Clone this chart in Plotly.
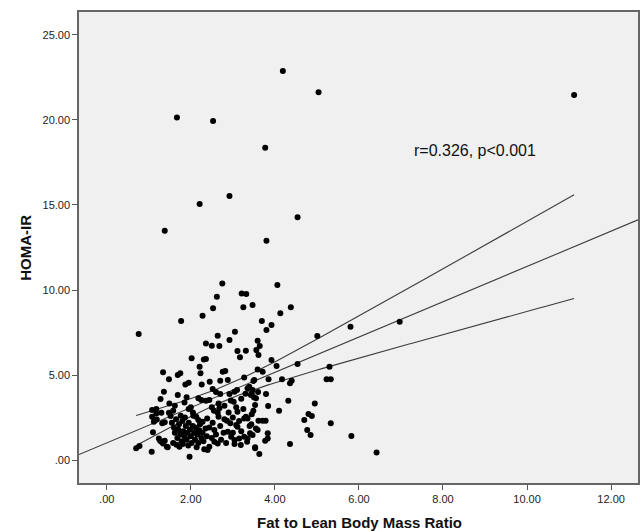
import numpy as np
import plotly.graph_objects as go

# ---- data ----
fat_lean_ratio = [
    4.19, 5.04, 1.67, 2.53, 3.77, 2.92, 2.21, 4.54, 1.38, 3.80, 2.75, 4.06, 2.62, 3.21, 3.32, 11.12,
    3.47, 4.38, 4.13, 3.69, 3.92, 3.80, 5.01, 5.80, 6.97, 3.59, 3.64, 3.56, 3.61, 3.92, 4.54, 4.04, 5.30, 3.59, 3.71,
    0.76, 1.77, 2.02, 1.34, 1.48, 1.69, 1.75, 1.87, 1.95, 1.36, 1.28, 1.69, 1.49, 1.90, 1.85, 1.18, 1.30, 1.48, 1.52,
    1.08, 1.14, 1.38, 1.10, 1.24, 1.30, 1.38, 0.70, 0.78, 1.07, 1.45, 1.73, 1.81, 1.97,
    2.53, 2.28, 3.25, 3.05, 2.64, 2.92, 2.36, 2.50, 2.68, 3.11, 3.31, 3.17, 2.31, 2.36, 2.21, 2.23, 2.76, 2.82, 3.27,
    2.70, 2.88, 3.51, 2.26, 2.52, 3.10, 3.04, 3.35, 3.47, 2.70, 2.92, 3.43, 3.55, 2.18, 2.25, 2.36, 2.44, 2.66, 2.68,
    2.64, 2.66, 3.02, 3.08, 3.11, 3.53, 3.49, 3.31, 3.35, 3.27, 2.13, 2.18, 2.28, 2.39, 2.86, 2.94, 3.08, 3.11, 2.44,
    2.56, 2.88, 2.96, 3.04, 3.15, 3.27, 3.35, 3.34, 3.55, 3.59, 2.56, 2.64, 2.44, 2.40, 2.32, 3.04, 3.19, 3.53,
    3.85, 4.17, 4.40, 4.36, 5.23, 5.33, 3.49, 3.39, 3.79, 4.32, 4.95, 3.84, 4.10, 4.80, 4.88, 4.70, 3.71, 3.61, 3.78,
    5.33, 3.44, 4.77, 4.85, 3.41, 3.47, 3.83, 3.83, 3.77, 4.36, 5.82, 3.53, 3.63, 6.42, 3.45, 3.50, 3.60,
    1.08, 1.18, 1.19, 1.12, 1.32, 1.27, 1.34, 1.43,
    1.55, 1.60, 1.62, 1.65, 1.68, 1.70, 1.72, 1.75, 1.78, 1.80, 1.82, 1.85, 1.88, 1.90, 1.92, 1.95, 1.98, 2.00, 2.02,
    2.05, 2.08, 2.10, 2.12, 2.15, 2.18, 2.20, 2.25, 2.28, 2.30, 2.35, 2.38, 1.58, 1.66, 1.76, 1.86, 2.06, 2.22, 1.94,
    2.14, 2.50, 2.52, 2.60, 2.70, 2.72, 2.78, 2.80, 2.84, 2.90, 3.00, 3.00, 3.15, 3.20, 3.25, 3.40, 3.45, 2.55, 2.50,
    2.80, 2.95, 3.20, 3.30, 2.60, 2.45, 2.00, 2.05, 1.95, 1.62, 1.58,
]
homa_ir = [
    22.88, 21.63, 20.14, 19.94, 18.37, 15.53, 15.06, 14.28, 13.49, 12.90, 10.39, 10.29, 9.61, 9.80, 9.76, 21.47,
    9.12, 8.98, 8.63, 8.18, 7.94, 7.65, 7.29, 7.84, 8.14, 7.02, 6.71, 6.47, 6.18, 5.88, 5.65, 5.53, 5.49, 5.33, 5.20,
    7.41, 8.18, 5.98, 5.16, 4.75, 5.00, 5.10, 4.45, 4.55, 4.02, 3.59, 3.82, 3.33, 3.69, 3.39, 3.00, 2.78, 2.78, 2.59,
    2.55, 2.31, 2.22, 1.63, 1.27, 1.08, 1.14, 0.69, 0.82, 0.49, 0.75, 0.78, 0.94, 0.20,
    8.92, 8.49, 8.98, 7.55, 7.31, 7.06, 6.86, 6.72, 6.71, 6.41, 6.43, 6.04, 5.92, 5.94, 5.49, 5.10, 5.20, 5.24, 4.86,
    4.67, 4.71, 4.71, 4.45, 4.18, 4.12, 4.02, 4.22, 4.12, 3.88, 3.88, 3.82, 3.63, 3.63, 3.53, 3.49, 3.53, 3.33, 3.04,
    2.78, 2.55, 3.43, 3.10, 2.84, 3.24, 2.90, 2.55, 2.45, 2.45, 2.55, 2.35, 2.25, 2.45, 2.31, 2.16, 2.06, 1.96, 1.92,
    1.76, 1.67, 1.37, 1.18, 1.27, 1.37, 1.27, 1.08, 1.86, 1.76, 1.08, 0.98, 0.78, 0.59, 0.63, 0.94, 0.88, 0.75,
    4.75, 4.75, 4.67, 4.51, 4.75, 4.75, 4.65, 4.31, 3.88, 3.49, 3.33, 3.18, 2.90, 2.71, 2.59, 2.35, 2.31, 2.31, 2.31,
    2.16, 2.10, 1.76, 1.47, 1.57, 1.47, 1.57, 1.27, 1.14, 0.94, 1.41, 0.69, 0.35, 0.45, 3.90, 3.70, 4.00,
    2.94, 2.74, 2.39, 2.25, 2.16, 1.14, 0.98, 0.78,
    2.20, 1.90, 1.60, 2.40, 1.30, 1.80, 2.10, 1.50, 1.10, 2.30, 1.70, 1.40, 2.00, 1.20, 1.60, 2.20, 1.80, 1.40, 1.00,
    2.00, 1.60, 1.20, 1.90, 1.50, 1.00, 1.75, 1.30, 1.60, 1.10, 1.85, 1.40, 1.00, 0.90, 2.60, 2.50, 2.60, 2.10, 0.85,
    0.75, 1.30, 2.20, 1.50, 2.00, 1.20, 1.60, 2.40, 1.00, 2.80, 1.60, 2.50, 2.30, 1.70, 3.00, 2.00, 2.70, 2.90, 3.10,
    3.20, 3.50, 3.60, 3.90, 4.00, 4.60, 3.10, 2.80, 3.00, 3.20, 2.90,
]

x_tick_vals = [0, 2, 4, 6, 8, 10, 12]
x_tick_text = [".00", "2.00", "4.00", "6.00", "8.00", "10.00", "12.00"]
y_tick_vals = [0, 5, 10, 15, 20, 25]
y_tick_text = [".00", "5.00", "10.00", "15.00", "20.00", "25.00"]
x_range = [-0.66, 12.64]
y_range = [-1.35, 26.35]
stat_text = "r=0.326, p<0.001"

# ---- linear fit with 95% mean confidence band ----
x = np.array(fat_lean_ratio)
y = np.array(homa_ir)
n = len(x)
slope, intercept = np.polyfit(x, y, 1)
resid = y - (intercept + slope * x)
s = np.sqrt(np.sum(resid ** 2) / (n - 2))
xbar = x.mean()
sxx = np.sum((x - xbar) ** 2)
t_crit = 1.969

fit_x = np.array(x_range)
fit_y = intercept + slope * fit_x
band_x = np.linspace(x.min(), x.max(), 200)
band_hat = intercept + slope * band_x
half = t_crit * s * np.sqrt(1.0 / n + (band_x - xbar) ** 2 / sxx)

line_col = "#3c3c3c"
fig = go.Figure()
fig.add_trace(go.Scatter(x=fit_x, y=fit_y, mode="lines",
                         line=dict(color=line_col, width=1.1), hoverinfo="skip"))
fig.add_trace(go.Scatter(x=band_x, y=band_hat + half, mode="lines",
                         line=dict(color=line_col, width=1.1), hoverinfo="skip"))
fig.add_trace(go.Scatter(x=band_x, y=band_hat - half, mode="lines",
                         line=dict(color=line_col, width=1.1), hoverinfo="skip"))
fig.add_trace(go.Scatter(x=fat_lean_ratio, y=homa_ir, mode="markers",
                         marker=dict(color="black", size=6, line=dict(width=0))))

fig.add_annotation(x=7.26, y=18.18, xref="x", yref="y", text=stat_text, showarrow=False,
                   xanchor="left", yanchor="middle",
                   font=dict(family="Arial, Liberation Sans", size=16, color="#111111"))
fig.add_annotation(x=0.501, y=-0.083, xref="paper", yref="paper",
                   text="<b>Fat to Lean Body Mass Ratio</b>", showarrow=False,
                   xanchor="center", yanchor="middle",
                   font=dict(family="Arial, Liberation Sans", size=15, color="#111111"))
fig.add_annotation(x=-0.096, y=0.5, xref="paper", yref="paper",
                   text="<b>HOMA-IR</b>", showarrow=False, textangle=-90,
                   xanchor="center", yanchor="middle",
                   font=dict(family="Arial, Liberation Sans", size=15, color="#111111"))

axis_common = dict(showgrid=False, zeroline=False, showline=True, mirror=True,
                   linecolor="#666666", linewidth=1.5, ticks="outside", ticklen=5,
                   tickcolor="#555555", tickwidth=1.2,
                   tickfont=dict(family="Arial, Liberation Sans", size=11, color="#222222"))
fig.update_xaxes(range=x_range, tickvals=x_tick_vals, ticktext=x_tick_text, **axis_common)
fig.update_yaxes(range=y_range, tickvals=y_tick_vals, ticktext=y_tick_text, **axis_common)

fig.update_layout(width=642, height=531, showlegend=False,
                  margin=dict(l=79, r=2, t=12, b=48),
                  plot_bgcolor="#f0f0f0", paper_bgcolor="white")

fig.write_html("out.html", config={"displayModeBar": False},
               post_script="document.body.style.margin='0';document.body.style.overflow='hidden';")
